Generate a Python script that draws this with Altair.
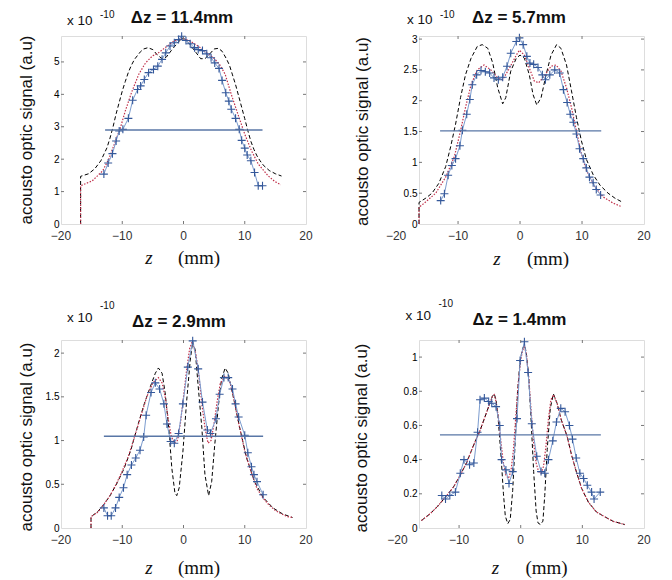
import altair as alt
import pandas as pd

# ---------------- Panel 1 : dz = 11.4 mm ----------------
p1_black_z = [-16.8, -16.8, -15.5, -14.5, -13.5, -12.5, -12, -11.5, -11, -10.5, -10, -9.5, -9, -8.5, -8, -7.5, -7, -6.5, -5.8, -5,
              -4.3, -3.5, -2.8, -2, -1, -0.3, 0.3, 1, 2, 2.8, 3.5, 4.3, 5, 5.7, 6.3, 7, 7.5, 8, 8.5, 9,
              9.5, 10, 10.5, 11, 11.5, 12, 12.5, 13, 14, 15, 16]
p1_black_s = [0, 1.47, 1.55, 1.7, 1.95, 2.35, 2.65, 3.0, 3.4, 3.75, 4.1, 4.4, 4.68, 4.9, 5.08, 5.2, 5.32, 5.4, 5.44, 5.38,
              5.22, 5.1, 5.15, 5.35, 5.58, 5.72, 5.7, 5.55, 5.3, 5.1, 5.1, 5.25, 5.4, 5.42, 5.33, 5.1, 4.9, 4.6, 4.3, 3.95,
              3.6, 3.25, 2.88, 2.55, 2.3, 2.1, 1.95, 1.82, 1.65, 1.55, 1.48]
p1_red_z = [-16.8, -16.8, -14.9, -13.2, -12.2, -11.1, -10.3, -9.5, -8.4, -7.3, -6.2, -5.1, -4.1, -3.0, -1.6, -0.3, 1.1, 2.4, 3.8, 4.9,
            5.9, 6.8, 7.8, 8.9, 10.0, 11.1, 12.2, 13.8, 14.9, 15.9]
p1_red_s = [0, 1.18, 1.33, 1.64, 2.0, 2.56, 2.97, 3.49, 4.1, 4.62, 4.97, 5.18, 5.28, 5.44, 5.64, 5.74, 5.64, 5.49, 5.28, 5.13,
            4.92, 4.62, 4.0, 3.38, 2.77, 2.26, 1.85, 1.49, 1.31, 1.21]
p1_data_z = [-13.0, -12.3, -11.6, -11.0, -10.5, -9.9, -9.0, -8.3, -7.5, -7.0, -6.4, -5.7, -4.9, -4.2, -3.5, -2.9, -2.2, -1.5, -0.8, -0.3,
             0.4, 1.1, 1.8, 2.4, 3.1, 3.8, 4.5, 5.1, 5.8, 6.3, 6.9, 7.4, 7.8, 8.5, 9.1, 9.5, 10.0, 10.4, 11.0, 11.6,
             12.2, 12.9]
p1_data_s = [1.54, 1.88, 2.17, 2.56, 2.87, 2.92, 3.26, 3.82, 4.15, 4.26, 4.46, 4.67, 4.77, 4.87, 5.08, 5.28, 5.49, 5.59, 5.69, 5.79,
             5.66, 5.56, 5.44, 5.38, 5.35, 5.25, 5.13, 4.97, 4.8, 4.43, 4.05, 3.79, 3.54, 3.26, 2.92, 2.58, 2.34, 2.13, 1.95, 1.59,
             1.18, 1.18]
p1_half = [-12.8, 12.9, 2.9]

# ---------------- Panel 2 : dz = 5.7 mm ----------------
p2_black_z = [-16.3, -16.3, -15.2, -14.2, -13.1, -12.0, -11.2, -10.4, -9.6, -8.8, -7.9, -6.9, -6.1, -5.2, -4.4, -3.6, -2.8, -2.3, -1.5, -0.6,
              0, 0.7, 1.5, 2.1, 2.7, 3.4, 4.2, 5.0, 5.9, 6.6, 7.5, 8.3, 9.1, 9.9, 10.7, 11.8, 12.9, 14.2, 15.3, 16.4]
p2_black_s = [0, 0.35, 0.42, 0.5, 0.66, 0.93, 1.25, 1.62, 2.05, 2.42, 2.69, 2.88, 2.91, 2.85, 2.61, 2.21, 1.95, 2.05, 2.48, 2.69,
              2.74, 2.69, 2.42, 2.1, 1.93, 2.05, 2.42, 2.74, 2.91, 2.85, 2.58, 2.16, 1.73, 1.35, 1.05, 0.8, 0.63, 0.5, 0.42, 0.36]
p2_red_z = [-16.3, -16.3, -15.2, -13.6, -12.0, -10.6, -9.6, -8.8, -7.9, -6.9, -5.8, -4.7, -3.6, -2.8, -1.7, -0.6, -0.1, 0.7, 1.5, 2.3,
            3.0, 3.9, 5.0, 5.8, 6.6, 7.5, 8.3, 9.1, 9.9, 10.7, 12.1, 13.4, 15.0, 16.4]
p2_red_s = [0, 0.27, 0.36, 0.5, 0.76, 1.09, 1.51, 1.89, 2.26, 2.5, 2.58, 2.5, 2.37, 2.34, 2.53, 2.74, 2.82, 2.74, 2.53, 2.32,
            2.29, 2.4, 2.56, 2.58, 2.48, 2.21, 1.89, 1.51, 1.14, 0.87, 0.6, 0.44, 0.34, 0.28]
p2_data_z = [-12.8, -12.2, -11.6, -11.0, -10.4, -9.7, -9.3, -8.6, -8.1, -7.7, -7.0, -6.3, -5.6, -4.9, -4.2, -3.5, -2.8, -2.1, -1.5, -0.6,
             -0.1, 0.5, 1.1, 1.6, 2.2, 2.9, 3.6, 4.1, 4.8, 5.6, 6.4, 7.0, 7.6, 8.1, 8.6, 9.1, 9.6, 10.2, 10.7, 11.2,
             11.8, 12.3, 13.0]
p2_data_s = [0.38, 0.49, 0.79, 0.95, 1.06, 1.27, 1.52, 1.78, 2.02, 2.26, 2.42, 2.49, 2.47, 2.45, 2.37, 2.34, 2.38, 2.56, 2.77, 2.96,
             3.02, 2.91, 2.72, 2.61, 2.59, 2.54, 2.42, 2.34, 2.42, 2.5, 2.45, 2.18, 1.97, 1.78, 1.65, 1.46, 1.22, 1.06, 0.91, 0.76,
             0.67, 0.56, 0.47]
p2_half = [-12.9, 13.1, 1.51]

# ---------------- Panel 3 : dz = 2.9 mm ----------------
p3_black_z = [-15.1, -15.1, -14.1, -13.0, -11.9, -10.8, -9.7, -8.6, -7.6, -6.5, -5.4, -4.6, -4.1, -3.5, -3.0, -2.4, -1.9, -1.4, -1.1, -0.7,
              -0.1, 0.5, 1.1, 1.5, 1.9, 2.4, 3.0, 3.5, 4.1, 4.6, 5.1, 5.7, 6.2, 6.8, 7.3, 8.1, 9.2, 10.3, 11.6, 13.0,
              14.6, 16.2, 17.8]
p3_black_s = [0, 0.13, 0.18, 0.27, 0.38, 0.52, 0.68, 0.89, 1.14, 1.4, 1.62, 1.77, 1.83, 1.77, 1.55, 1.14, 0.68, 0.4, 0.37, 0.46,
              0.87, 1.44, 1.92, 2.13, 2.04, 1.62, 1.14, 0.61, 0.37, 0.53, 0.95, 1.4, 1.7, 1.83, 1.77, 1.51, 1.14, 0.8, 0.53, 0.35,
              0.23, 0.16, 0.12]
p3_red_z = [-15.1, -15.1, -14, -13, -12, -11, -10, -9, -8, -7, -6, -5, -4.1, -3.5, -3, -2.5, -2, -1.5, -1, -0.5,
            0, 0.5, 1, 1.4, 2, 2.5, 3, 3.5, 4, 4.5, 5, 5.5, 6, 6.8, 7.5, 8, 9, 10, 11, 12,
            13, 14, 15, 16, 17, 17.8]
p3_red_s = [0, 0.13, 0.18, 0.27, 0.37, 0.5, 0.65, 0.82, 1.04, 1.27, 1.5, 1.66, 1.72, 1.66, 1.5, 1.25, 1.05, 0.97, 1.0, 1.2,
            1.5, 1.8, 2.05, 2.13, 2.0, 1.75, 1.42, 1.15, 0.97, 1.0, 1.2, 1.45, 1.65, 1.74, 1.68, 1.55, 1.2, 0.88, 0.65, 0.45,
            0.34, 0.26, 0.2, 0.16, 0.13, 0.12]
p3_data_z = [-13.0, -12.4, -11.8, -11.1, -10.5, -9.8, -9.2, -8.5, -7.8, -7.1, -6.5, -6.1, -5.3, -4.6, -3.9, -3.2, -2.7, -2.1, -1.5, -0.8,
             -0.1, 0.7, 1.5, 2.4, 3.1, 3.9, 4.4, 5.3, 5.9, 6.6, 7.3, 8.0, 8.5, 9.0, 10.0, 10.5, 11.1, 11.5, 12.0, 13.0]
p3_data_s = [0.23, 0.14, 0.14, 0.23, 0.35, 0.46, 0.61, 0.72, 0.8, 0.89, 1.04, 1.29, 1.55, 1.66, 1.59, 1.42, 1.19, 0.99, 0.97, 1.08,
             1.42, 1.84, 2.14, 1.82, 1.44, 1.12, 1.08, 1.25, 1.53, 1.72, 1.72, 1.59, 1.42, 1.27, 1.06, 0.86, 0.7, 0.61, 0.53, 0.38]
p3_half = [-13.0, 13.0, 1.05]

# ---------------- Panel 4 : dz = 1.4 mm ----------------
p4_black_z = [-16.1, -14.7, -13.4, -12.0, -10.9, -9.8, -8.8, -7.7, -6.6, -5.8, -5.0, -4.6, -4.3, -4.0, -3.7, -3.4, -3.1, -2.8, -2.5, -2.1,
              -1.7, -1.3, -0.9, -0.5, -0.1, 0.3, 0.6, 0.9, 1.3, 1.7, 2.1, 2.5, 2.8, 3.2, 3.6, 3.9, 4.3, 4.8, 5.3, 5.9,
              6.6, 7.5, 8.3, 9.1, 9.9, 11.0, 12.3, 13.7, 15.0, 16.4, 16.9]
p4_black_s = [0.044, 0.083, 0.13, 0.19, 0.24, 0.31, 0.38, 0.48, 0.57, 0.65, 0.73, 0.77, 0.785, 0.75, 0.66, 0.52, 0.37, 0.2, 0.07, 0.025,
              0.05, 0.22, 0.5, 0.8, 0.98, 1.05, 1.07, 1.03, 0.88, 0.62, 0.33, 0.1, 0.03, 0.02, 0.04, 0.19, 0.46, 0.7, 0.785, 0.73,
              0.63, 0.54, 0.42, 0.32, 0.23, 0.15, 0.093, 0.064, 0.039, 0.025, 0.02]
p4_red_z = [-16.1, -14.7, -13.4, -12.0, -10.9, -9.8, -8.8, -7.7, -6.6, -5.8, -5.0, -4.6, -4.3, -4.0, -3.6, -3.2, -2.8, -2.4, -2.0, -1.6,
            -1.2, -0.8, -0.4, 0.0, 0.3, 0.6, 0.9, 1.3, 1.7, 2.1, 2.5, 2.9, 3.3, 3.7, 4.1, 4.5, 4.9, 5.3, 5.9, 6.6,
            7.5, 8.3, 9.1, 9.9, 11.0, 12.3, 13.7, 15.0, 16.4, 16.9]
p4_red_s = [0.044, 0.083, 0.13, 0.19, 0.24, 0.31, 0.38, 0.48, 0.57, 0.65, 0.73, 0.77, 0.78, 0.74, 0.64, 0.5, 0.38, 0.31, 0.29, 0.33,
            0.45, 0.65, 0.85, 0.98, 1.04, 1.06, 1.02, 0.88, 0.68, 0.5, 0.38, 0.33, 0.32, 0.36, 0.48, 0.64, 0.75, 0.78, 0.73, 0.63,
            0.54, 0.42, 0.32, 0.23, 0.15, 0.093, 0.064, 0.039, 0.025, 0.02]
p4_data_z = [-12.8, -12.2, -11.5, -10.6, -9.8, -9.2, -8.3, -7.6, -7.0, -6.6, -5.9, -5.2, -4.7, -4.0, -3.4, -3.1, -2.4, -1.9, -1.3, -0.6,
             -0.1, 0.6, 1.2, 1.8, 2.6, 3.3, 3.9, 4.5, 5.2, 5.8, 6.5, 7.2, 7.9, 8.4, 9.0, 9.6, 10.2, 10.8, 11.5, 11.9, 12.9]
p4_data_s = [0.19, 0.17, 0.19, 0.21, 0.32, 0.4, 0.37, 0.38, 0.56, 0.75, 0.76, 0.74, 0.73, 0.71, 0.6, 0.4, 0.34, 0.26, 0.33, 0.64,
             0.98, 1.09, 0.91, 0.61, 0.42, 0.33, 0.32, 0.4, 0.51, 0.62, 0.7, 0.68, 0.6, 0.52, 0.41, 0.32, 0.29, 0.25, 0.21, 0.17, 0.21]
p4_half = [-13.1, 13.0, 0.545]

titles = ["\u0394z = 11.4mm", "\u0394z = 5.7mm", "\u0394z = 2.9mm", "\u0394z = 1.4mm"]
x_ticks = [-20, -10, 0, 10, 20]
x_tick_labels = ["\u221220", "\u221210", "0", "10", "20"]
y_ticks = [[0, 1, 2, 3, 4, 5], [0, 0.5, 1, 1.5, 2, 2.5, 3], [0, 0.5, 1, 1.5, 2], [0, 0.2, 0.4, 0.6, 0.8, 1]]
y_label = "acousto optic signal (a.u)"

PLUS = "M -1 0 L 1 0 M 0 -1 L 0 1"
SANS = "Liberation Sans"
SERIF = "Liberation Serif"
TICK = "#777777"


def frame(z, s):
    return pd.DataFrame({"z": z, "s": s, "i": list(range(len(z)))})


def txt(text, x, y, size, font=SANS, weight="normal", style="normal", align="left", angle=0,
        baseline="alphabetic", color="#111111"):
    return alt.Chart(pd.DataFrame({"t": [text]})).mark_text(
        font=font, fontSize=size, fontWeight=weight, fontStyle=style, align=align,
        baseline=baseline, angle=angle, color=color
    ).encode(x=alt.value(x), y=alt.value(y), text="t:N")


def panel(black, red, data, half, xdom, ydom, yt, W, H, title, ann):
    xs = alt.Scale(domain=xdom, nice=False, zero=False)
    ys = alt.Scale(domain=ydom, nice=False, zero=False)
    ya = alt.Axis(values=yt, title=None, format=".2~f", grid=False, ticks=False, domain=False)

    def X(f):
        return alt.X(f, type="quantitative", scale=xs, axis=None)

    def Y(f):
        return alt.Y(f, type="quantitative", scale=ys, axis=ya)

    blk = alt.Chart(frame(*black)).mark_line(color="#000000", strokeDash=[4, 2.5], strokeWidth=1).encode(
        x=X("z"), y=Y("s"), order="i:Q")
    rd = alt.Chart(frame(*red)).mark_line(color="#c0304a", strokeDash=[1.5, 1.5], strokeWidth=1.2).encode(
        x=X("z"), y=Y("s"), order="i:Q")
    dl = alt.Chart(frame(*data)).mark_line(color="#7c9ccf", strokeWidth=1).encode(
        x=X("z"), y=Y("s"), order="i:Q")
    dp = alt.Chart(frame(*data)).mark_point(shape=PLUS, size=64, color="#34589a", strokeWidth=1.1,
                                            filled=False, opacity=1).encode(x=X("z"), y=Y("s"))
    hl = alt.Chart(pd.DataFrame({"z0": [half[0]], "z1": [half[1]], "s": [half[2]]})).mark_rule(
        color="#5876a6", strokeWidth=1.4).encode(x=X("z0"), x2="z1:Q", y=Y("s"))

    # x tick labels (drawn through the x scale; the -20 label may sit left of a cropped frame)
    xl = alt.Chart(pd.DataFrame({"z": x_ticks, "lab": x_tick_labels})).mark_text(
        font=SANS, fontSize=12, color="#333333", align="center", baseline="top"
    ).encode(x=X("z"), y=alt.value(H + 7), text="lab:N")

    # inward tick marks on all four sides (matlab box style)
    xin = pd.DataFrame({"z": [v for v in x_ticks if xdom[0] < v < xdom[1]]})
    yin = pd.DataFrame({"s": [v for v in yt if ydom[0] < v < ydom[1]]})
    tk = [
        alt.Chart(xin).mark_rule(color=TICK, strokeWidth=1).encode(x=X("z"), y=alt.value(H), y2=alt.value(H - 3)),
        alt.Chart(xin).mark_rule(color=TICK, strokeWidth=1).encode(x=X("z"), y=alt.value(0), y2=alt.value(3)),
        alt.Chart(yin).mark_rule(color=TICK, strokeWidth=1).encode(y=Y("s"), x=alt.value(0), x2=alt.value(3)),
        alt.Chart(yin).mark_rule(color=TICK, strokeWidth=1).encode(y=Y("s"), x=alt.value(W - 3), x2=alt.value(W)),
    ]

    texts = [
        txt(title, ann["tx"], ann["ty"], 17, weight="bold", align="center"),
        txt("x 10", ann["ax"], ann["ay"], 13.5),
        txt("-10", ann["ax"] + 33, ann["sy"], 10),
        txt(y_label, ann["yx"], ann["yy"], 17, align="center", angle=270, baseline="middle"),
        txt("z", ann["zx"], H + ann["zb"], 19, font=SERIF, style="italic", align="center"),
        txt("(mm)", ann["mx"], H + ann["zb"], 19, font=SERIF, align="center"),
    ]
    return alt.layer(blk, rd, dl, dp, hl, xl, *tk, *texts).properties(width=W, height=H)


H = 188
c1 = panel((p1_black_z, p1_black_s), (p1_red_z, p1_red_s), (p1_data_z, p1_data_s), p1_half,
           [-20, 20], [0, 5.8], y_ticks[0], 245, H, titles[0],
           dict(tx=121, ty=-13, ax=6, ay=-11.5, sy=-18.5, yx=-34, yy=94, zx=88, mx=138, zb=40))
c2 = panel((p2_black_z, p2_black_s), (p2_red_z, p2_red_s), (p2_data_z, p2_data_s), p2_half,
           [-16.3, 20], [0, 3.05], y_ticks[1], 225, H, titles[1],
           dict(tx=100, ty=-13, ax=-12, ay=-12.5, sy=-18.5, yx=-56, yy=95.5, zx=78, mx=129, zb=40.5))
c3 = panel((p3_black_z, p3_black_s), (p3_red_z, p3_red_s), (p3_data_z, p3_data_s), p3_half,
           [-20, 20], [0, 2.15], y_ticks[2], 245, H, titles[2],
           dict(tx=118, ty=-13.5, ax=6, ay=-18.5, sy=-31.5, yx=-34.5, yy=97, zx=88, mx=138, zb=46))
c4 = panel((p4_black_z, p4_black_s), (p4_red_z, p4_red_s), (p4_data_z, p4_data_s), p4_half,
           [-16.5, 20], [0, 1.1], y_ticks[3], 225, H, titles[3],
           dict(tx=100.5, ty=-15.5, ax=-13.5, ay=-20.5, sy=-33.5, yx=-57.5, yy=98, zx=76.5, mx=127.5, zb=46))

chart = alt.concat(c1, c2, c3, c4, columns=2, spacing={"row": 116, "column": 113}, bounds="flush").properties(
    padding={"left": 8, "top": 0, "right": 5, "bottom": 5}
).configure_view(stroke="#555555", strokeWidth=1).configure_axis(
    domain=False, ticks=False, grid=False, labelFont=SANS, labelFontSize=12, labelColor="#333333",
    labelPadding=5
).configure(background="white")

chart.save("out.html", embed_options={"renderer": "svg", "actions": False})
